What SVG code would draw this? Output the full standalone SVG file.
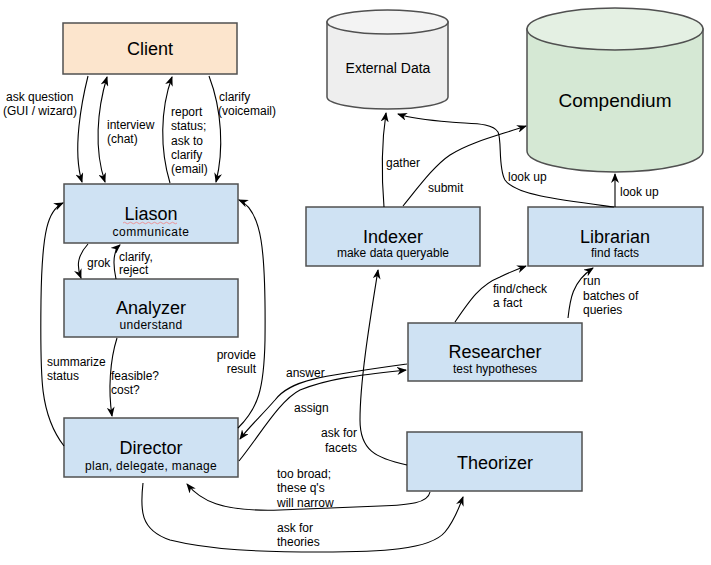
<svg xmlns="http://www.w3.org/2000/svg" width="711" height="565" viewBox="0 0 711 565">
<defs>
<marker id="ah" viewBox="0 0 10 8" refX="9" refY="4" markerWidth="10" markerHeight="8" markerUnits="userSpaceOnUse" orient="auto-start-reverse">
<path d="M0,0 L10,4 L0,8 L3,4 Z" fill="#000"/>
</marker>
<style>
.box{fill:#cfe2f3;stroke:#505050;stroke-width:1.5}
.t{font-family:"Liberation Sans",Arial,sans-serif;fill:#000}
.big{font-size:18px;text-anchor:middle}
.sub{font-size:12px;text-anchor:middle}
.lbl{font-size:12px}
.c{fill:none;stroke:#000;stroke-width:1.1;marker-end:url(#ah)}
</style>
</defs>
<rect width="711" height="565" fill="#fff"/>

<g id="external-data">
<path d="M327,22 L327,97 A60.5,12 0 0 0 448,97 L448,22 Z" fill="#eeeeee" stroke="#505050" stroke-width="1.5"/>
<ellipse cx="387.5" cy="22" rx="60.5" ry="12" fill="#f3f3f3" stroke="#505050" stroke-width="1.5"/>
<text class="t" x="388" y="73" font-size="14" text-anchor="middle">External Data</text>
</g>

<g id="compendium">
<path d="M527,29 L527,151 A88,21 0 0 0 703,151 L703,29 Z" fill="#d5e8d4" stroke="#505050" stroke-width="1.5"/>
<ellipse cx="615" cy="29" rx="88" ry="21" fill="#e4f0e3" stroke="#505050" stroke-width="1.5"/>
<text class="t" x="615" y="107" font-size="19" text-anchor="middle">Compendium</text>
</g>

<g id="client">
<rect x="63" y="23" width="174" height="51" fill="#fce5cd" stroke="#505050" stroke-width="1.5"/>
<text class="t big" x="150" y="55">Client</text>
</g>

<g id="liason">
<rect class="box" x="64" y="184" width="174" height="59"/>
<text class="t big" x="151" y="220">Liason</text>
<path d="M123,223 q1.5,-1.5 3,0 t3,0 t3,0 t3,0 t3,0 t3,0 t3,0 t3,0 t3,0 t3,0 t3,0 t3,0 t3,0 t3,0 t3,0 t3,0 t3,0 t3,0" fill="none" stroke="#f08080" stroke-width="0.8"/>
<text class="t sub" x="151" y="236" letter-spacing="0.5">communicate</text>
</g>

<g id="analyzer">
<rect class="box" x="64" y="279" width="174" height="58"/>
<text class="t big" x="151" y="314">Analyzer</text>
<text class="t sub" x="151" y="329" letter-spacing="0.3">understand</text>
</g>

<g id="director">
<rect class="box" x="64" y="418" width="174" height="59"/>
<text class="t big" x="151" y="454">Director</text>
<text class="t sub" x="151" y="470" letter-spacing="0.3">plan, delegate, manage</text>
</g>

<g id="indexer">
<rect class="box" x="306" y="207" width="174" height="59"/>
<text class="t big" x="393" y="243">Indexer</text>
<text class="t sub" x="393" y="257">make data queryable</text>
</g>

<g id="librarian">
<rect class="box" x="528" y="207" width="175" height="59"/>
<text class="t big" x="615" y="243">Librarian</text>
<text class="t sub" x="615" y="257">find facts</text>
</g>

<g id="researcher">
<rect class="box" x="408" y="323" width="174" height="58"/>
<text class="t big" x="495" y="358">Researcher</text>
<text class="t sub" x="495" y="373">test hypotheses</text>
</g>

<g id="theorizer">
<rect class="box" x="407" y="432" width="175" height="59"/>
<text class="t big" x="495" y="469">Theorizer</text>
</g>

<g id="connectors">
<path class="c" d="M88,76 C82,100 72,150 82,182"/>
<path class="c" d="M107,77 C97,110 94,150 105,182" marker-start="url(#ah)"/>
<path class="c" d="M170,183 C160,150 160,110 172,77"/>
<path class="c" d="M209,76 C222,110 224,150 216,182"/>
<path class="c" d="M88,244 C78,255 76,265 81,278"/>
<path class="c" d="M116,279 C113,265 112,252 120,245"/>
<path class="c" d="M117,338 C110,360 108,390 112,416"/>
<path class="c" d="M64,446 C40,415 40,380 41,300 C42,230 48,210 63,203"/>
<path class="c" d="M238,428 C258,408 264,390 265,340 C266,250 262,210 239,200"/>
<path class="c" d="M407,364 C320,376 290,380 275,400 C262,415 248,428 240,439"/>
<path class="c" d="M239,461 C260,435 280,400 300,390 C330,378 360,375 406,370"/>
<path class="c" d="M407,465 C375,458 360,450 360,420 C360,380 370,320 378,270"/>
<path class="c" d="M430,492 C428,503 410,505 380,506 L280,510 C220,512 200,500 187,484"/>
<path class="c" d="M143,483 C140,510 140,530 170,540 C210,550 260,552 320,552 C380,552 430,550 445,532 C455,520 460,505 463,497"/>
<path class="c" d="M455,322 C470,300 480,285 500,277 C510,272 518,269 526,266"/>
<path class="c" d="M568,318 C570,300 572,282 593,268"/>
<path class="c" d="M615,207 L615,174"/>
<path class="c" d="M614,207 C560,200 515,195 505,180 C498,168 502,140 498,132 C492,122 470,124 450,122 C425,120 410,118 398,114"/>
<path class="c" d="M384,207 C381,170 382,140 386,113"/>
<path class="c" d="M403,206 C420,185 435,165 450,155 C470,142 500,135 526,126"/>
</g>

<g id="labels" class="t lbl">
<text x="6" y="101">ask question</text>
<text x="3" y="115">(GUI / wizard)</text>
<text x="107" y="129">interview</text>
<text x="107" y="143">(chat)</text>
<text x="171" y="116">report</text>
<text x="171" y="130">status;</text>
<text x="171" y="145">ask to</text>
<text x="171" y="159">clarify</text>
<text x="171" y="173">(email)</text>
<text x="219" y="101">clarify</text>
<text x="218" y="115">(voicemail)</text>
<text x="87" y="267">grok</text>
<text x="119" y="261">clarify,</text>
<text x="119" y="274">reject</text>
<text x="111" y="380">feasible?</text>
<text x="111" y="394">cost?</text>
<text x="47" y="366">summarize</text>
<text x="47" y="380">status</text>
<text x="256" y="359" text-anchor="end">provide</text>
<text x="256" y="373" text-anchor="end">result</text>
<text x="286" y="377">answer</text>
<text x="294" y="412">assign</text>
<text x="357" y="437" text-anchor="end">ask for</text>
<text x="357" y="452" text-anchor="end">facets</text>
<text x="277" y="478">too broad;</text>
<text x="277" y="492">these q's</text>
<text x="277" y="507">will narrow</text>
<text x="277" y="532">ask for</text>
<text x="277" y="546">theories</text>
<text x="493" y="293">find/check</text>
<text x="493" y="307">a fact</text>
<text x="583" y="285">run</text>
<text x="583" y="300">batches of</text>
<text x="583" y="314">queries</text>
<text x="620" y="196">look up</text>
<text x="508" y="181">look up</text>
<text x="386" y="167">gather</text>
<text x="428" y="192">submit</text>
</g>
</svg>
